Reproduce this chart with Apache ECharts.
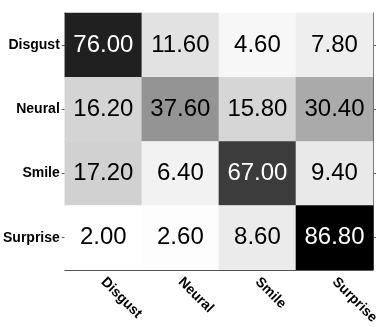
<!DOCTYPE html>
<html>
<head>
<meta charset="utf-8">
<script src="https://cdn.jsdelivr.net/npm/echarts@6/dist/echarts.min.js"></script>
<style>
html,body{margin:0;padding:0;background:#fff;}
#c{width:382px;height:327px;}
</style>
</head>
<body>
<div id="c"></div>
<script>
var predicted = ['Disgust', 'Neural', 'Smile', 'Surprise'];
var actual = ['Disgust', 'Neural', 'Smile', 'Surprise'];
var rowDisgust = [76.00, 11.60, 4.60, 7.80];
var rowNeural = [16.20, 37.60, 15.80, 30.40];
var rowSmile = [17.20, 6.40, 67.00, 9.40];
var rowSurprise = [2.00, 2.60, 8.60, 86.80];
var rows = [rowDisgust, rowNeural, rowSmile, rowSurprise];

var data = [];
rows.forEach(function (r, yi) {
  r.forEach(function (v, xi) {
    data.push({
      value: [xi, yi, v],
      label: { color: v > 50 ? '#ffffff' : '#000000' }
    });
  });
});

var allVals = [].concat.apply([], rows);
var vmin = Math.min.apply(null, allVals);
var vmax = Math.max.apply(null, allVals);

var lineStyle = { color: '#555555', width: 1 };
var font = 'Liberation Sans, Arial, sans-serif';

var chart = echarts.init(document.getElementById('c'));
chart.setOption({
  animation: false,
  grid: { left: 64, right: 9, top: 13, bottom: 57 },
  xAxis: [{
    type: 'category', data: predicted, position: 'bottom',
    axisLine: { show: true, lineStyle: lineStyle },
    axisTick: { show: true, inside: true, length: 4, alignWithLabel: true, lineStyle: lineStyle },
    axisLabel: { rotate: -45, margin: 10, fontSize: 14, fontWeight: 'bold', color: '#000', fontFamily: font },
    splitLine: { show: false }
  }, {
    type: 'category', data: predicted, position: 'top',
    axisLine: { show: true, lineStyle: lineStyle },
    axisTick: { show: true, inside: true, length: 3, alignWithLabel: true, lineStyle: lineStyle },
    axisLabel: { show: false }
  }],
  yAxis: [{
    type: 'category', data: actual, inverse: true, position: 'left',
    axisLine: { show: true, lineStyle: lineStyle },
    axisTick: { show: true, inside: false, length: 3, alignWithLabel: true, lineStyle: lineStyle },
    axisLabel: { margin: 5, fontSize: 14, fontWeight: 'bold', color: '#000', fontFamily: font },
    splitLine: { show: false }
  }, {
    type: 'category', data: actual, inverse: true, position: 'right',
    axisLine: { show: true, lineStyle: lineStyle },
    axisTick: { show: true, inside: false, length: 3, alignWithLabel: true, lineStyle: lineStyle },
    axisLabel: { show: false }
  }],
  visualMap: {
    show: false, min: vmin, max: vmax, dimension: 2,
    inRange: { color: ['#ffffff', '#000000'] }
  },
  series: [{
    type: 'heatmap',
    xAxisIndex: 0, yAxisIndex: 0,
    data: data,
    label: {
      show: true, fontSize: 24, fontFamily: font,
      formatter: function (p) { return p.value[2].toFixed(2); }
    },
    emphasis: { disabled: true }
  }]
});
</script>
</body>
</html>
